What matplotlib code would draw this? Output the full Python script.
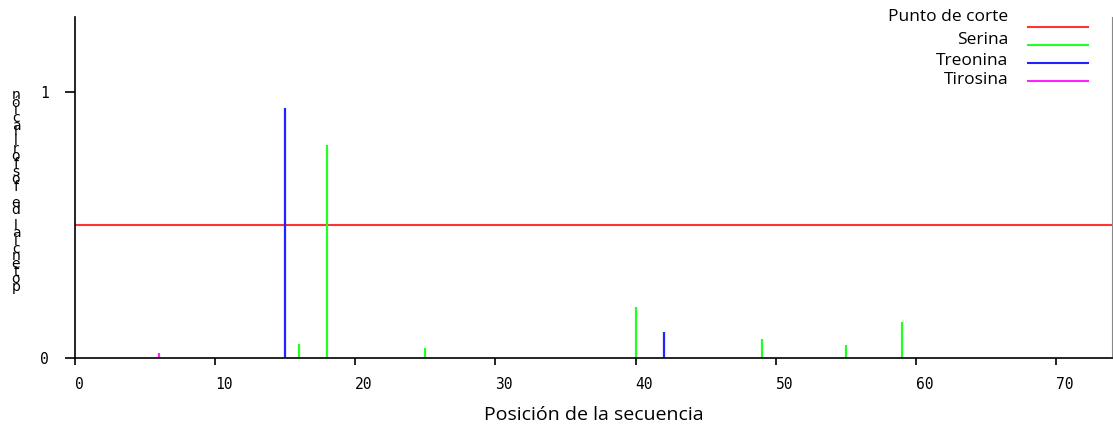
import matplotlib
matplotlib.use("Agg")
from matplotlib import pyplot as plt

# sequence positions and phosphorylation scores
serina_pos = [16, 18, 25, 40, 49, 55, 59]
serina_val = [0.054, 0.80, 0.037, 0.19, 0.073, 0.05, 0.135]
treonina_pos = [15, 42]
treonina_val = [0.94, 0.098]
tirosina_pos = [6]
tirosina_val = [0.02]
threshold = 0.5
seq_len = 74
x_ticks = [0, 10, 20, 30, 40, 50, 60, 70]
y_ticks = [0, 1]
y_label = "potencial de fosforilación"

W, H = 1113, 426
fig = plt.figure(figsize=(W / 100, H / 100), dpi=100)
ax = fig.add_axes([75 / W, 1 - 358 / H, (1112 - 75) / W, (358 - 17) / H])

ax.axhline(threshold, color='#ff3333', lw=1.5)
ax.vlines(serina_pos, 0, serina_val, color='#22ff22', lw=1.6)
ax.vlines(treonina_pos, 0, treonina_val, color='#2222ff', lw=1.6)
ax.vlines(tirosina_pos, 0, tirosina_val, color='#ff22ff', lw=1.6)

ax.set_xlim(0, seq_len)
ax.set_ylim(0, 1.282)
ax.spines['top'].set_visible(False)
ax.spines['right'].set_color('#888888')
ax.spines['right'].set_linewidth(0.8)
ax.spines['left'].set_linewidth(1.2)
ax.spines['bottom'].set_linewidth(1.2)

ax.set_xticks(x_ticks)
ax.set_xticklabels([str(t) for t in x_ticks], family='DejaVu Sans Mono', fontsize=10.5, ha='left')
ax.set_yticks(y_ticks)
ax.set_yticklabels([str(t) for t in y_ticks], family='DejaVu Sans Mono', fontsize=10.5)
ax.tick_params(axis='x', direction='out', length=5, width=1.2, pad=9)
ax.tick_params(axis='y', direction='out', length=7, width=1.2, pad=12)

ax.set_xlabel("Posición de la secuencia", family='Open Sans', fontsize=14, labelpad=10)

# stacked y label (characters unrotated, read bottom to top)
top_px, bot_px = 95, 287
n = len(y_label)
for i, ch in enumerate(y_label):
    ypx = bot_px - i * (bot_px - top_px) / (n - 1)
    fig.text(16 / W, 1 - ypx / H, ch, family='DejaVu Sans', fontsize=10,
             ha='center', va='center')

# legend drawn at the top right
legend = [("Punto de corte", '#ff3333'), ("Serina", '#22ff22'),
          ("Treonina", '#2222ff'), ("Tirosina", '#ff22ff')]
text_y = [17, 40, 61, 80]
line_y = [27, 45, 63, 81]
for (name, col), ty, ly in zip(legend, text_y, line_y):
    fig.text(1008 / W, 1 - ty / H, name, family='Open Sans', fontsize=12.5,
             ha='right', va='center')
    fig.add_artist(plt.Line2D([1028 / W, 1088 / W], [1 - ly / H, 1 - ly / H],
                              color=col, lw=1.5, transform=fig.transFigure))

fig.savefig("out.png", dpi=100)
